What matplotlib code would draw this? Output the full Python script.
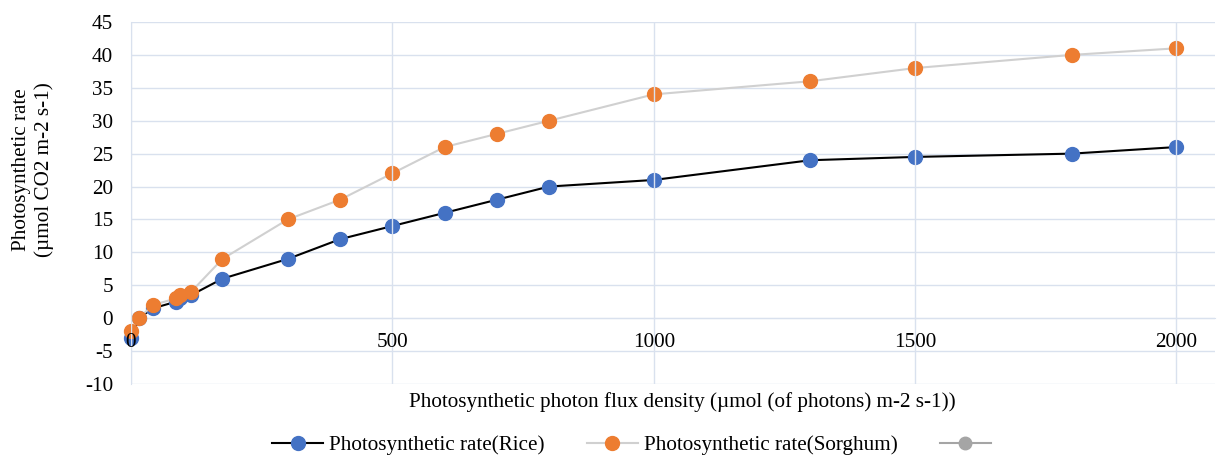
import matplotlib.pyplot as plt

plt.rcParams['font.family'] = ['Liberation Serif', 'DejaVu Serif']
plt.rcParams['axes.unicode_minus'] = False

ppfd = [0, 15, 42, 86, 94, 115, 175, 300, 400, 500, 600, 700, 800, 1000, 1300, 1500, 1800, 2000]
rice = [-3, 0, 1.5, 2.5, 3, 3.5, 6, 9, 12, 14, 16, 18, 20, 21, 24, 24.5, 25, 26]
sorghum = [-2, 0, 2, 3, 3.5, 4, 9, 15, 18, 22, 26, 28, 30, 34, 36, 38, 40, 41]

grid_c = '#d9e1ee'
fs = 15.2

fig = plt.figure(figsize=(12.17, 4.57), dpi=100)
ax = fig.add_axes([0.1076, 0.1597, 0.8904, 0.7922])

ax.plot(ppfd, rice, '-o', color='black', lw=1.5, mfc='#4472c4', mec='#4472c4',
        ms=10, label='Photosynthetic rate(Rice)', zorder=3, clip_on=False)
ax.plot(ppfd, sorghum, '-o', color='#d0d0d0', lw=1.5, mfc='#ed7d31', mec='#ed7d31',
        ms=10, label='Photosynthetic rate(Sorghum)', zorder=4, clip_on=False)
ax.plot([], [], '-o', color='#a5a5a5', mfc='#a5a5a5', mec='#a5a5a5', ms=9, label=' ')

ax.set_xlim(0, 2073)
ax.set_ylim(-10, 45)
ax.set_xticks(range(0, 2001, 500))
ax.set_yticks(range(-10, 46, 5))
ax.grid(True, color=grid_c, lw=1)
ax.set_axisbelow(True)
ax.xaxis.set_zorder(6)

for s in ['top', 'right']:
    ax.spines[s].set_visible(False)
ax.spines['left'].set_color(grid_c)
ax.spines['bottom'].set_position(('data', 0))
ax.spines['bottom'].set_color(grid_c)
ax.tick_params(length=0, labelsize=fs)
ax.tick_params(axis='x', pad=11)
ax.tick_params(axis='y', pad=13)

fig.text(33 / 1217, 1 - 170 / 457, 'Photosynthetic rate\n(µmol CO2 m-2 s-1)',
         rotation=90, ha='center', va='center', fontsize=fs, multialignment='center')
fig.text(682 / 1217, 0.12, 'Photosynthetic photon flux density (µmol (of photons) m-2 s-1))',
         ha='center', va='center', fontsize=fs)

ax.legend(loc='center left', bbox_to_anchor=(272 / 1217, 0.026), bbox_transform=fig.transFigure,
          ncol=3, frameon=False, fontsize=fs, handlelength=2.42, handletextpad=0.28,
          columnspacing=2.0, borderpad=0, borderaxespad=0)

fig.savefig('out.png', dpi=100)
